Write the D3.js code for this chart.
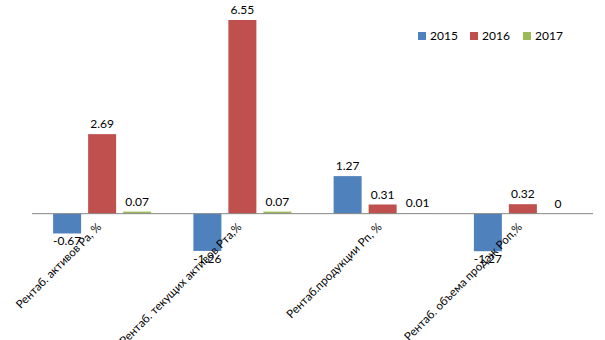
<!DOCTYPE html>
<html><head><meta charset="utf-8">
<script src="https://cdn.jsdelivr.net/npm/d3@7"></script>
<style>body{margin:0;background:#fff}svg{display:block}</style>
</head><body>
<svg id="c" width="605" height="340"></svg>
<script>
const categories = ["Рентаб. активов Ра, %", "Рентаб. текущих активов Рта,%", "Рентаб.продукции Рп, %", "Рентаб. объема продаж Роп,%"];
const seriesNames = ["2015", "2016", "2017"];
const values2015 = [-0.67, -1.26, 1.27, -1.27];
const values2016 = [2.69, 6.55, 0.31, 0.32];
const values2017 = [0.07, 0.07, 0.01, 0];
const colors = ["#4F81BD", "#C0504D", "#9BBB59"];

const series = [values2015, values2016, values2017];
const svg = d3.select("#c");
const font = "Lato, 'Open Sans', sans-serif";

const x = d3.scaleBand().domain(categories).range([32, 593]).paddingInner(0).paddingOuter(0);
const groupW = 98;
const xi = d3.scaleBand().domain(seriesNames).range([0, groupW]).paddingInner(0.2).paddingOuter(0);
const y = d3.scaleLinear().domain([-2, 7]).range([272.8, 6.7]);

const g = svg.append("g");
seriesNames.forEach((s, si) => {
  const vals = series[si];
  g.selectAll(null).data(categories).enter().append("rect")
    .attr("x", (c) => x(c) + (x.bandwidth() - groupW) / 2 + xi(s))
    .attr("width", xi.bandwidth())
    .attr("y", (c, i) => Math.min(y(vals[i]), y(0)))
    .attr("height", (c, i) => Math.abs(y(vals[i]) - y(0)))
    .attr("fill", colors[si]);
});

// zero axis line
svg.append("line").attr("x1", 32).attr("x2", 593).attr("y1", y(0)).attr("y2", y(0))
  .attr("stroke", "#868686").attr("stroke-width", 1);

// category labels
svg.selectAll(null).data(categories).enter().append("text")
  .attr("transform", (c) => `translate(${x(c) + x.bandwidth() / 2},${y(0) + 14}) rotate(-45)`)
  .attr("text-anchor", "end")
  .attr("font-family", font).attr("font-size", 11.5).attr("fill", "#000")
  .text((c) => c);

// data labels
seriesNames.forEach((s, si) => {
  const vals = series[si];
  g.selectAll(null).data(categories).enter().append("text")
    .attr("x", (c) => x(c) + (x.bandwidth() - groupW) / 2 + xi(s) + xi.bandwidth() / 2)
    .attr("y", (c, i) => vals[i] < 0 ? y(vals[i]) + 12 : y(vals[i]) - 6)
    .attr("text-anchor", "middle")
    .attr("font-family", font).attr("font-size", 12).attr("fill", "#000")
    .text((c, i) => String(vals[i]));
});

// legend
const lg = svg.append("g");
const lx = [418, 470, 523];
seriesNames.forEach((s, si) => {
  lg.append("rect").attr("x", lx[si]).attr("y", 32).attr("width", 8).attr("height", 8).attr("fill", colors[si]);
  lg.append("text").attr("x", lx[si] + 12).attr("y", 40).attr("font-family", font).attr("font-size", 12)
    .attr("fill", "#000").text(s);
});
</script>
</body></html>
